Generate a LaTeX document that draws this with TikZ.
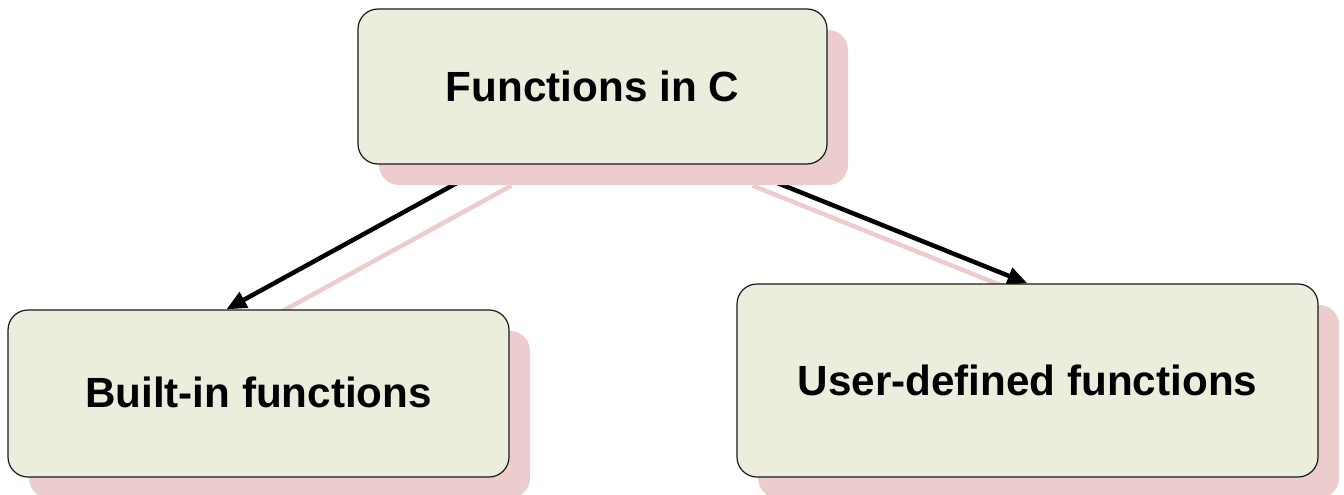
\documentclass[tikz,border=0pt]{standalone}
\usepackage{fontspec}
\setmainfont{Liberation Sans}
\usetikzlibrary{arrows.meta,shadows,backgrounds}
\definecolor{boxfill}{HTML}{EBEEDD}
\definecolor{shadowpink}{HTML}{ECCCCC}
\tikzset{
  topic/.style={draw=black!90, line width=1.2pt, fill=boxfill, rounded corners=20pt,
    font=\bfseries\fontsize{42.2}{50}\selectfont, align=center, inner sep=0pt,
    general shadow={fill=shadowpink, shadow xshift=21pt, shadow yshift=-21pt}},
  link/.style={line width=4.5pt, -{Triangle[length=20pt,width=17pt]}},
  linkshadow/.style={line width=4.5pt, draw=shadowpink},
}
\begin{document}
\begin{tikzpicture}[x=1pt,y=-1pt]
\useasboundingbox (0,0) rectangle (1344,495);

% the three category boxes
\node[topic, minimum width=469pt, minimum height=155pt] (top) at (592.5,86.5) {Functions in C};
\node[topic, minimum width=501pt, minimum height=167pt] (builtin) at (258.5,393.5) {\raisebox{3pt}{Built-in functions}};
\node[topic, minimum width=581pt, minimum height=193pt] (user) at (1027.5,380.5) {User-defined functions};

% connectors and their shadows, kept behind the boxes
\begin{scope}[on background layer]
  \draw[linkshadow] ([shift={(154,21)}]top.south west) -- ([shift={(240,21)}]builtin.north west);
  \draw[linkshadow] ([shift={(-75,21)}]top.south east) -- ([shift={(21,21)}]user.north);
  \draw[link] ([xshift=133pt]top.south west) -- ([xshift=219pt]builtin.north west);
  \draw[link] ([xshift=-96pt]top.south east) -- (user.north);
\end{scope}
\end{tikzpicture}
\end{document}
